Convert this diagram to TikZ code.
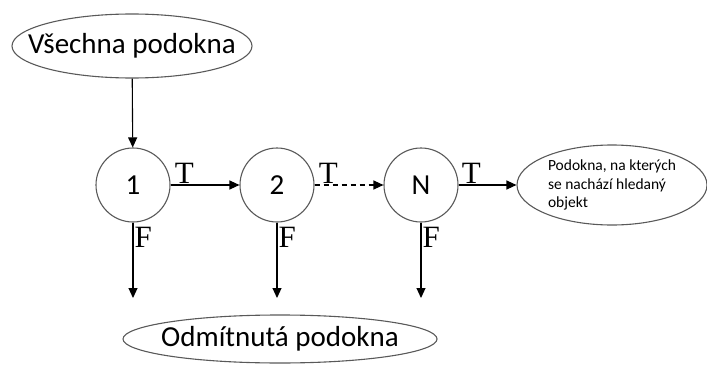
\documentclass[tikz,border=0pt]{standalone}
\usepackage{fontspec}
\setmainfont{Carlito}
\newfontfamily\tfont{Liberation Serif}
\usetikzlibrary{arrows.meta,shapes.geometric}

\begin{document}
\begin{tikzpicture}[x=1pt, y=1pt, -{Triangle[length=10pt,width=9pt]}, auto,
    node distance=144pt, line width=1.1pt,
    test/.style={circle, draw=black!65, minimum size=74pt, inner sep=0pt,
      font=\fontsize{29}{32}\selectfont},
    set/.style={ellipse, draw=black!65, inner ysep=0pt,
      font=\fontsize{29}{32}\selectfont},
    lbl/.style={font=\tfont\fontsize{31}{32}\selectfont, inner sep=1pt}]
      \useasboundingbox (0,0) rectangle (707,365);

      \node[set, inner xsep=-19pt, minimum width=240pt, minimum height=64pt] (all) at (132,319) {Všechna podokna};
      \node[test]          (t1) at (133,180) {1};
      \node[test]          (t2) [right of=t1] {2};
      \node[test]          (tN) [right of=t2] {N};
      \node[set, inner xsep=-6pt, minimum width=190pt, minimum height=80pt, align=left,
            font=\fontsize{15.5}{18.5}\selectfont] (found) at (612,180)
            {Podokna, na kterých\\se nachází hledaný\\objekt};
      \node[set, inner xsep=-9pt, minimum width=314pt, minimum height=48pt] (rejected) at (280,26) {Odmítnutá podokna};

      \coordinate (f1) at (t1 |- 0,67);
      \coordinate (f2) at (t2 |- 0,67);
      \coordinate (fN) at (tN |- 0,67);

      \path (all) edge (t1)
            (t1)  edge node[lbl, pos=0.2] {T} (t2)
                  edge node[lbl, pos=0.2] {F} (f1)
            (t2)  edge [dash pattern=on 5pt off 4pt] node[lbl, pos=0.2] {T} (tN)
                  edge node[lbl, pos=0.2] {F} (f2)
            (tN)  edge node[lbl, pos=0.22] {T} (found)
                  edge node[lbl, pos=0.2] {F} (fN);
    \end{tikzpicture}
\end{document}
